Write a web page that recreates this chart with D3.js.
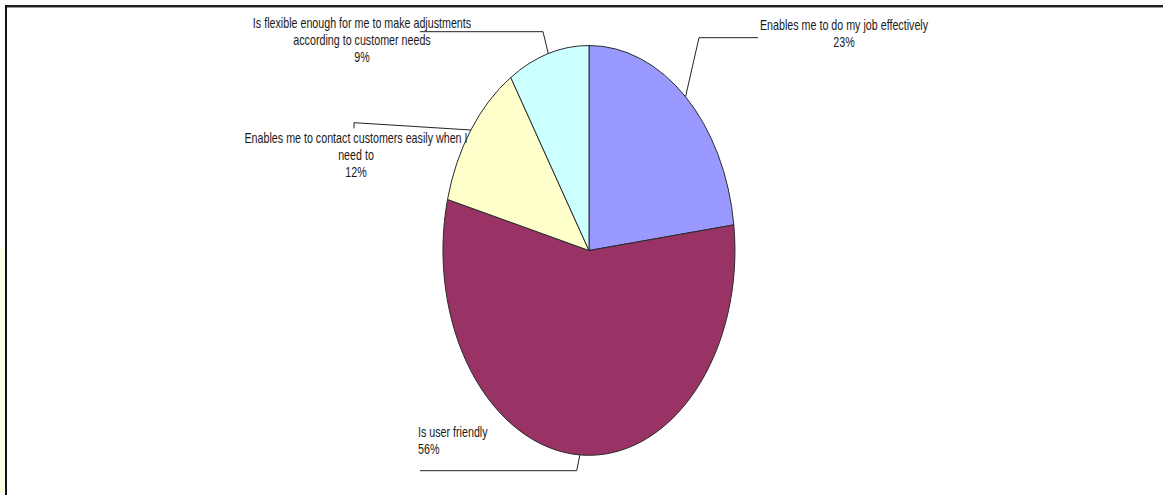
<!DOCTYPE html>
<html>
<head>
<meta charset="utf-8">
<script src="https://cdn.jsdelivr.net/npm/d3@7"></script>
<style>
  html, body { margin: 0; padding: 0; background: #ffffff; }
  svg { display: block; }
  .lbl { font-family: "Liberation Sans", Arial, sans-serif; font-size: 14px; fill: #1a1a1a; }
</style>
</head>
<body>
<svg id="chart" width="1163" height="495"></svg>
<script>
// Survey responses, clockwise from 12 o'clock
const categories = [
  "Enables me to do my job effectively",
  "Is user friendly",
  "Enables me to contact customers easily when I need to",
  "Is flexible enough for me to make adjustments according to customer needs"
];
const shares = [23, 56, 12, 9];
const sliceColors = ["#9999FF", "#993366", "#FFFFCC", "#CCFFFF"];

// Label text broken into lines as displayed
const labelLines = [
  ["Enables me to do my job effectively"],
  ["Is user friendly"],
  ["Enables me to contact customers easily when I", "need to"],
  ["Is flexible enough for me to make adjustments", "according to customer needs"]
];

const W = 1163, H = 495;
const svg = d3.select("#chart");

// Frame
svg.append("rect").attr("x", 0).attr("y", 247).attr("width", 4).attr("height", 246).attr("fill", "#ffffdc");
svg.append("rect").attr("x", 5).attr("y", 5).attr("width", W - 5).attr("height", 2).attr("fill", "#1e1e1e");
svg.append("rect").attr("x", 5).attr("y", 7).attr("width", W - 5).attr("height", 1).attr("fill", "#9a9a9a");
svg.append("rect").attr("x", 5).attr("y", 5).attr("width", 2).attr("height", H - 5).attr("fill", "#111");

// Elliptical pie: unit-circle arcs stretched to the ellipse
const cx = 589, cy = 250.5, rx = 146, ry = 205;
const pie = d3.pie().sort(null).value(d => d)(shares);
const arc = d3.arc().innerRadius(0).outerRadius(1);

const g = svg.append("g").attr("transform", `translate(${cx},${cy}) scale(${rx},${ry})`);
g.selectAll("path.slice")
  .data(pie)
  .join("path")
  .attr("class", "slice")
  .attr("d", arc)
  .attr("fill", (d, i) => sliceColors[i])
  .attr("stroke", "#2b2b2b")
  .attr("stroke-width", 1)
  .attr("vector-effect", "non-scaling-stroke")
  .attr("stroke-linejoin", "round");

// Point on the ellipse edge at a given pie angle (radians, clockwise from top)
function edge(a) {
  return [cx + rx * Math.sin(a), cy - ry * Math.cos(a)];
}

// Label placement: leader line kinks and text anchors
const labelLayout = [
  { knee: [699, 37.7], end: [758, 37.7], x: 844, y: 30, anchor: "middle" },
  { knee: [576.7, 470.7], end: [420, 470.7], x: 418, y: 437, anchor: "start" },
  { knee: [354, 122.7], end: [354, 128.3], x: 356, y: 143, anchor: "middle" },
  { knee: [543, 31.7], end: [420, 31.7], x: 362, y: 28, anchor: "middle" }
];

// Leader lines start at each slice's mid-angle on the rim
const lineGen = d3.line();
pie.forEach((d, i) => {
  const L = labelLayout[i];
  const p0 = edge((d.startAngle + d.endAngle) / 2);
  svg.append("path")
    .attr("d", lineGen([p0, L.knee, L.end]))
    .attr("fill", "none")
    .attr("stroke", "#222")
    .attr("stroke-width", 1);
});

// Narrow lettering: regular face squeezed horizontally
const squeeze = 0.765;
labelLayout.forEach((L, i) => {
  const t = svg.append("text")
    .attr("class", "lbl")
    .attr("text-anchor", L.anchor)
    .attr("transform", `translate(${L.x},${L.y}) scale(${squeeze},1)`);
  const lines = labelLines[i].concat([shares[i] + "%"]);
  lines.forEach((s, k) => {
    t.append("tspan")
      .attr("x", 0)
      .attr("y", k * 16.8)
      .text(s);
  });
});
</script>
</body>
</html>
